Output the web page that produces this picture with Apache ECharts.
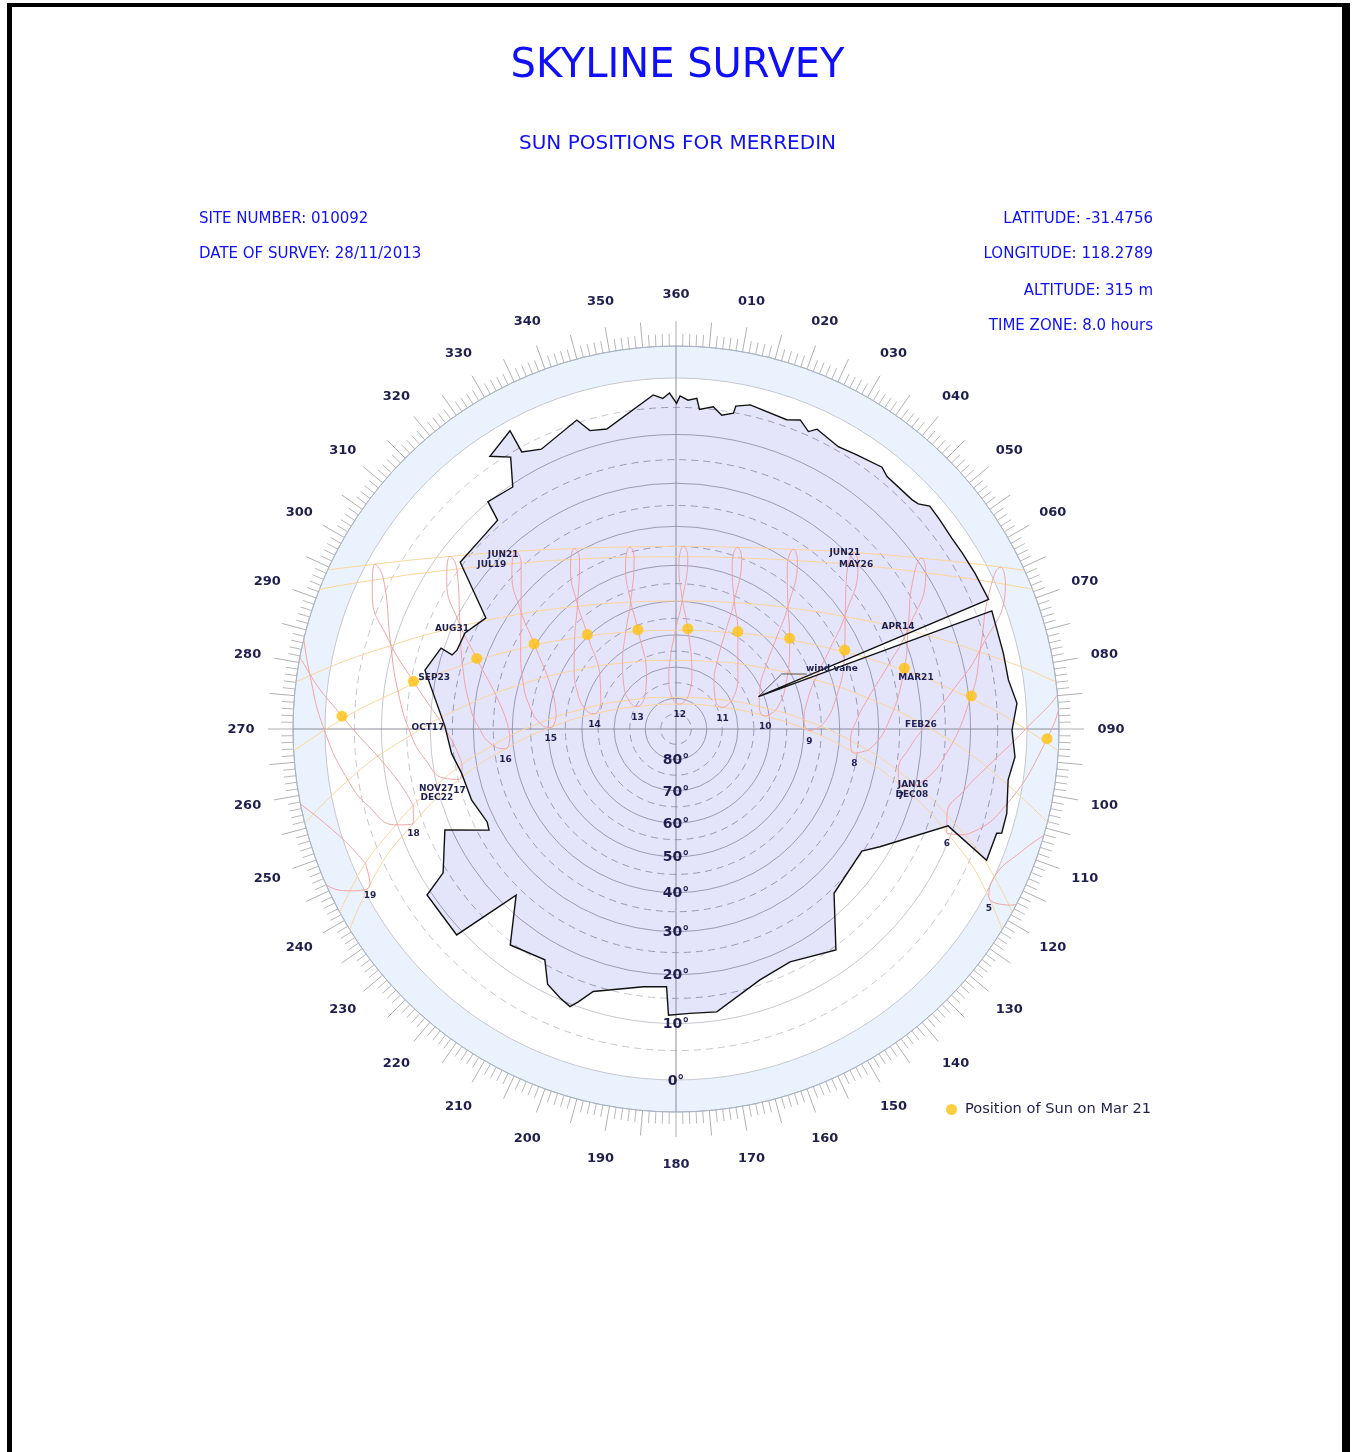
<!DOCTYPE html>
<html><head><meta charset="utf-8">
<script src="https://cdn.jsdelivr.net/npm/echarts@6/dist/echarts.min.js"></script>
<style>
html,body{margin:0;padding:0;background:#fff;overflow:hidden;}
#frame{position:absolute;left:7px;top:3px;width:1330px;height:1460px;border-left:5px solid #000;border-top:4px solid #000;border-right:8px solid #000;}
#chart{position:absolute;left:0;top:0;width:1355px;height:1452px;}
</style></head><body>
<div id="frame"></div>
<div id="chart"></div>
<script>
// ---------------- data (azimuth deg, elevation deg) ----------------
const HOURS = [5,6,7,8,9,10,11,12,13,14,15,16,17,18,19];
const SUN_JAN16 = [[117.8,-4.2],[110.1,7.5],[103.1,19.7],[96.3,32.3],[88.9,45.1],[79.4,57.8],[63.1,69.9],[20.4,78.9],[314.5,75.7],[288.1,64.6],[275.9,52.1],[267.6,39.3],[260.6,26.6],[253.8,14.1],[246.6,2.1]];
const SUN_FEB11 = [[113.0,-9.1],[104.9,3.0],[97.5,15.6],[89.9,28.3],[81.4,41.1],[70.1,53.5],[51.8,64.7],[16.9,72.2],[330.4,70.7],[301.6,61.6],[286.1,49.9],[275.9,37.3],[267.8,24.5],[260.4,11.8],[252.8,-0.6]];
const SUN_MAR21 = [[99.6,-16.0],[91.5,-3.2],[83.6,9.5],[75.1,22.1],[64.9,34.1],[51.4,45.0],[32.4,53.6],[6.7,57.9],[339.0,56.3],[316.8,49.5],[301.0,39.5],[289.5,27.9],[280.3,15.5],[272.2,2.8],[264.3,-10.0]];
const SUN_APR14 = [[90.3,-19.3],[82.6,-6.5],[74.7,6.0],[65.9,18.1],[55.3,29.2],[41.7,38.8],[24.0,45.8],[2.6,48.8],[340.6,46.9],[322.0,40.7],[307.5,31.6],[296.3,20.7],[287.2,8.8],[279.2,-3.6],[271.5,-16.3]];
const SUN_MAY14 = [[81.4,-22.7],[74.4,-10.2],[66.8,1.8],[58.2,13.2],[47.8,23.4],[34.8,31.9],[19.0,37.7],[1.0,39.9],[342.8,38.1],[326.7,32.6],[313.5,24.4],[302.8,14.3],[294.0,3.1],[286.4,-8.9],[279.3,-21.4]];
const SUN_JUN21 = [[77.3,-26.0],[70.7,-13.7],[63.5,-1.9],[55.2,9.1],[45.3,18.9],[33.2,27.1],[18.7,32.7],[2.4,35.0],[345.8,33.7],[330.6,28.9],[317.9,21.4],[307.4,12.0],[298.7,1.3],[291.3,-10.3],[284.6,-22.5]];
const SUN_JUL19 = [[80.4,-25.8],[73.6,-13.4],[66.3,-1.4],[58.0,10.0],[48.0,20.2],[35.8,28.8],[21.0,34.9],[3.9,37.6],[346.3,36.5],[330.4,31.8],[317.0,24.2],[306.1,14.6],[297.2,3.7],[289.5,-8.0],[282.6,-20.3]];
const SUN_AUG31 = [[91.3,-18.7],[83.6,-6.0],[75.7,6.6],[66.9,18.7],[56.3,30.0],[42.6,39.7],[24.6,46.8],[2.7,49.9],[340.3,48.0],[321.2,41.7],[306.6,32.4],[295.4,21.5],[286.3,9.5],[278.3,-3.0],[270.6,-15.7]];
const SUN_SEP23 = [[98.0,-12.6],[90.0,0.2],[82.0,12.9],[73.2,25.4],[62.4,37.3],[47.8,47.8],[27.0,55.6],[359.7,58.6],[332.5,55.5],[311.9,47.6],[297.4,37.0],[286.6,25.2],[277.8,12.7],[269.8,-0.1],[261.9,-12.8]];
const SUN_OCT17 = [[104.8,-6.1],[97.0,6.5],[89.3,19.2],[80.9,32.0],[70.5,44.4],[55.7,55.8],[31.5,64.7],[355.0,67.8],[321.0,62.8],[299.9,53.0],[286.5,41.2],[276.9,28.7],[268.7,15.9],[261.1,3.2],[253.0,-9.2]];
const SUN_NOV03 = [[109.5,-2.5],[101.9,9.9],[94.5,22.5],[86.8,35.3],[77.3,47.9],[63.5,60.0],[38.2,70.1],[351.9,73.6],[311.8,67.3],[291.3,56.3],[279.4,44.0],[270.7,31.2],[263.1,18.5],[255.8,5.9],[247.9,-6.3]];
const SUN_NOV27 = [[114.9,0.0],[107.6,12.0],[100.7,24.4],[93.8,37.0],[85.9,49.8],[74.9,62.4],[52.8,74.0],[352.9,79.6],[301.4,72.1],[282.6,60.2],[272.5,47.5],[264.9,34.7],[258.0,22.0],[251.1,9.7],[243.6,-2.1]];
const SUN_DEC22 = [[118.3,-0.7],[110.9,10.9],[104.2,23.1],[97.7,35.7],[90.7,48.4],[81.7,61.2],[65.0,73.4],[8.7,81.8],[300.2,75.5],[280.5,63.4],[270.7,50.7],[263.4,37.9],[256.9,25.3],[250.3,13.1],[243.1,1.3]];
// extra points before sunrise / after sunset (04:00 and 20:00) for the summer paths
const NOV27_EDGES = [[123.4,-11.1],[234.9,-13.1]];
const DEC22_EDGES = [[126.9,-11.5],[234.8,-9.6]];

const SKYLINE = [
[0.1,4.3],[0.7,3.0],[2.1,3.7],[3.6,3.3],[4.2,5.2],[6.6,4.5],[8.3,5.8],[10.3,5.1],[10.5,3.8],[12.9,3.1],
[19.7,3.8],[21.9,3.0],[24.0,4.3],[25.2,3.3],[29.9,4.3],[33.4,3.8],[38.2,3.0],[39.9,3.7],[45.8,3.7],[47.1,3.4],
[48.7,2.2],[51.6,2.4],[55.3,2.6],[58.4,2.5],[62.5,2.3],[67.5,2.1],[68.6,61.7],[69.5,2.3],[77.0,2.5],[81.6,2.5],
[85.7,1.5],[90.2,2.5],[94.7,1.8],[98.7,2.5],[104.3,1.6],[107.7,1.5],[108.0,2.3],[112.9,2.3],[109.6,11.1],[120.0,22.3],
[123.3,25.3],[136.1,24.0],[144.1,14.3],[153.9,17.1],[161.5,16.0],[171.8,11.7],[177.2,11.9],[181.5,11.6],[182.1,17.4],[187.2,17.0],
[197.5,13.8],[199.7,10.9],[200.9,9.5],[203.3,10.3],[206.7,11.7],[209.6,15.8],[217.5,14.4],[223.9,23.4],[226.8,8.8],[236.3,9.1],
[238.3,14.1],[246.4,18.6],[241.6,27.6],[243.8,28.1],[250.8,26.7],[258.3,26.1],[263.8,24.5],[270.6,23.3],[283.2,17.4],[289.0,19.4],
[288.3,22.2],[289.8,22.9],[294.5,23.1],[300.3,25.8],[307.7,14.3],[314.0,14.4],[319.5,13.9],[320.4,9.9],[326.0,10.5],[328.7,5.6],
[325.7,3.5],[330.9,1.6],[330.9,5.8],[334.3,7.0],[342.2,4.5],[343.9,7.0],[347.0,7.5],[356.1,2.7],[357.7,3.4],[358.9,2.5]
];
const WIND_VANE_LEADER = [[68.6,61.7],[62.5,52.5],[67.2,46.0]];
const WIND_VANE_LABEL = {text:'wind vane', pos:[69.0,39.1]};

const DATE_LABELS = ['JUN21','JUL19','AUG31','SEP23','OCT17','NOV27','DEC22','JUN21','MAY26','APR14','MAR21','FEB26','JAN16','DEC08'];
const DATE_LABEL_POS = [[315.2,20.1],[311.7,19.8],[294.1,20.1],[281.9,19.7],[270.2,19.5],[256.0,19.7],[253.9,19.3],[43.8,20.4],[47.7,20.5],[65.3,20.3],[78.0,20.1],[89.1,20.2],[103.3,20.5],[105.6,20.2]];

const ANGLE_TICK_LABELS = ['360','010','020','030','040','050','060','070','080','090','100','110','120','130','140','150','160','170','180','190','200','210','220','230','240','250','260','270','280','290','300','310','320','330','340','350'];
const ELEV_LABEL_VALUES = [0,10,20,30,40,50,60,70,80];
const ELEV_LABELS = ['0°','10°','20°','30°','40°','50°','60°','70°','80°'];
const CIRCLE_SOLID = [0,10,20,30,40,50,60,70,80];
const CIRCLE_DASHED = [5,15,25,35,45,55,65,75,85];

// ---------------- projection & layout ----------------
const DEG = Math.PI/180;
const R_HORIZON = 351, R_OUTER = 383, R_LABEL = 435;
const S_MAX = R_OUTER/R_HORIZON, S_LABEL = R_LABEL/R_HORIZON;
const s = el => Math.tan((90-el)/2*DEG);          // stereographic radius
const toPolar = p => [s(p[1]), p[0]];
const NAVY = '#1f1f4f', BLUE = '#0f0ff8', FONT = 'DejaVu Sans';

const ANALEMMA_DATES = [SUN_JAN16,SUN_FEB11,SUN_MAR21,SUN_APR14,SUN_MAY14,SUN_JUN21,SUN_JUL19,SUN_AUG31,SUN_SEP23,SUN_OCT17,SUN_NOV03,SUN_NOV27,SUN_DEC22];
const DATE_ARCS = [SUN_JUN21,SUN_JUL19,SUN_AUG31,SUN_SEP23,SUN_OCT17,
  [NOV27_EDGES[0]].concat(SUN_NOV27,[NOV27_EDGES[1]]),
  [DEC22_EDGES[0]].concat(SUN_DEC22,[DEC22_EDGES[1]])];

function radPx(api, el){ const c=api.coord([0,0]); const p=api.coord([s(el),0]); return Math.hypot(p[0]-c[0],p[1]-c[1]); }
function circles(api, color){
  const c = api.coord([0,0]); const out=[];
  CIRCLE_SOLID.forEach(e=>out.push({type:'circle',shape:{cx:c[0],cy:c[1],r:radPx(api,e)},style:{fill:'none',stroke:color,lineWidth:1}}));
  CIRCLE_DASHED.forEach(e=>out.push({type:'circle',shape:{cx:c[0],cy:c[1],r:radPx(api,e)},style:{fill:'none',stroke:color,lineWidth:1,lineDash:[7,5]}}));
  return out;
}
function polyPts(api){ return SKYLINE.map(p=>api.coord(toPolar(p))); }
function txt(x,y,text,size,weight,color,align){
  return {type:'text',x:x,y:y,style:{text:text,fill:color||NAVY,fontSize:size,fontWeight:weight||'normal',fontFamily:FONT,align:align||'center',verticalAlign:'middle'}};
}

const series = [];
// band + outer ring
series.push({type:'custom',coordinateSystem:'polar',z:0,silent:true,data:[[0,0]],renderItem:(p,api)=>{
  const c=api.coord([0,0]);
  return {type:'group',children:[
    {type:'ring',shape:{cx:c[0],cy:c[1],r:radPx(api,-4.95),r0:radPx(api,0)},style:{fill:'#eaf3fd'}},
    {type:'circle',shape:{cx:c[0],cy:c[1],r:R_OUTER},style:{fill:'none',stroke:'#aab4c4',lineWidth:1}}
  ]};
}});
// light grid circles (visible outside skyline)
series.push({type:'custom',coordinateSystem:'polar',z:1,silent:true,data:[[0,0]],renderItem:(p,api)=>({type:'group',children:circles(api,'#c6c6ce')})});
// skyline fill
series.push({type:'custom',coordinateSystem:'polar',z:2,silent:true,data:SKYLINE.map(toPolar),renderItem:(p,api)=>{
  if(p.dataIndex!==0) return null;
  return {type:'polygon',shape:{points:polyPts(api)},style:{fill:'#e4e4fb',stroke:'none'}};
}});
// darker grid circles clipped to skyline
series.push({type:'custom',coordinateSystem:'polar',z:3,silent:true,data:[[0,0]],renderItem:(p,api)=>({
  type:'group',clipPath:{type:'polygon',shape:{points:polyPts(api)}},children:circles(api,'#9a9ab4')
})});
// cross lines
series.push({type:'custom',coordinateSystem:'polar',z:3,silent:true,data:[[0,0]],renderItem:(p,api)=>{
  const a=api.coord([S_MAX,0]), b=api.coord([S_MAX,180]), c=api.coord([S_MAX,90]), d=api.coord([S_MAX,270]);
  return {type:'group',children:[
    {type:'line',shape:{x1:a[0],y1:a[1],x2:b[0],y2:b[1]},style:{stroke:'#8c8c9c',lineWidth:1}},
    {type:'line',shape:{x1:c[0],y1:c[1],x2:d[0],y2:d[1]},style:{stroke:'#8c8c9c',lineWidth:1}}
  ]};
}});
// date arcs
DATE_ARCS.forEach(arc=>series.push({type:'line',coordinateSystem:'polar',z:4,silent:true,showSymbol:false,smooth:0.5,
  data:arc.map(toPolar),lineStyle:{color:'#fbd59a',width:1}}));
// analemmas (one per clock hour)
HOURS.forEach((h,i)=>{
  const pts = ANALEMMA_DATES.map(d=>d[i]); pts.push(pts[0]);
  series.push({type:'line',coordinateSystem:'polar',z:5,silent:true,showSymbol:false,smooth:0.5,
    data:pts.map(toPolar),lineStyle:{color:'#f2a4a4',width:1}});
});
// skyline outline + wind vane leader
series.push({type:'custom',coordinateSystem:'polar',z:6,silent:true,data:[[0,0]],renderItem:(p,api)=>({type:'group',children:[
  {type:'polygon',shape:{points:polyPts(api)},style:{fill:'none',stroke:'#111',lineWidth:1.4}},
  {type:'polyline',shape:{points:WIND_VANE_LEADER.map(q=>api.coord(toPolar(q)))},style:{fill:'none',stroke:'#333',lineWidth:0.8}}
]})});
// Mar 21 sun positions
series.push({type:'scatter',name:'Position of Sun on Mar 21',coordinateSystem:'polar',z:8,silent:true,
  data:SUN_MAR21.filter(p=>p[1]>-4.9).map(toPolar),symbol:'circle',symbolSize:11,itemStyle:{color:'#ffc20e'}});
// labels
series.push({type:'custom',coordinateSystem:'polar',z:9,silent:true,data:[[0,0]],renderItem:(p,api)=>{
  const ch=[];
  ANGLE_TICK_LABELS.forEach((t,i)=>{const q=api.coord([S_LABEL,i*10]); ch.push(txt(q[0],q[1]+1,t,13,'bold'));});
  ELEV_LABEL_VALUES.forEach((e,i)=>{const q=api.coord([s(e),180]); ch.push(txt(q[0],q[1]+1,ELEV_LABELS[i],14,'bold'));});
  HOURS.forEach((h,i)=>{const q=api.coord(toPolar(SUN_DEC22[i])); ch.push(txt(q[0],q[1]+11,String(h),9,'bold'));});
  DATE_LABELS.forEach((t,i)=>{const q=api.coord(toPolar(DATE_LABEL_POS[i])); ch.push(txt(q[0],q[1],t,9,'bold'));});
  const w=api.coord(toPolar(WIND_VANE_LABEL.pos)); ch.push(txt(w[0],w[1],WIND_VANE_LABEL.text,9,'bold'));
  return {type:'group',children:ch};
}});

const infoStyle = (t,align)=>({text:t,fill:BLUE,fontSize:15,fontFamily:FONT,align:align,verticalAlign:'middle'});
const option = {
  animation:false,
  title:[
    {text:'SKYLINE SURVEY',left:'center',top:40,padding:5,textStyle:{fontSize:40,fontWeight:'normal',color:BLUE,fontFamily:FONT,lineHeight:44}},
    {text:'SUN POSITIONS FOR MERREDIN',left:'center',top:127,padding:5,textStyle:{fontSize:20,fontWeight:'normal',color:BLUE,fontFamily:FONT,lineHeight:24}}
  ],
  legend:{data:['Position of Sun on Mar 21'],left:946,top:1102,padding:0,icon:'circle',itemWidth:11,itemHeight:11,selectedMode:false,
    textStyle:{fontSize:14.6,color:NAVY,fontFamily:FONT,padding:[0,0,0,3]}},
  graphic:[
    {type:'text',x:199,y:219.5,style:infoStyle('SITE NUMBER: 010092','left')},
    {type:'text',x:199,y:254.5,style:infoStyle('DATE OF SURVEY: 28/11/2013','left')},
    {type:'text',x:1153,y:219.5,style:infoStyle('LATITUDE: -31.4756','right')},
    {type:'text',x:1153,y:254.5,style:infoStyle('LONGITUDE: 118.2789','right')},
    {type:'text',x:1153,y:291.5,style:infoStyle('ALTITUDE: 315 m','right')},
    {type:'text',x:1153,y:326.5,style:infoStyle('TIME ZONE: 8.0 hours','right')}
  ],
  polar:{center:[676,729],radius:R_OUTER},
  angleAxis:{type:'value',min:0,max:360,interval:5,startAngle:90,clockwise:true,
    axisLine:{show:true,lineStyle:{color:'#aab4c4',width:1}},
    axisTick:{show:true,inside:false,length:25,lineStyle:{color:'#b0b0b0',width:1}},
    minorTick:{show:true,splitNumber:5,length:12,lineStyle:{color:'#b8b8b8',width:1}},
    axisLabel:{show:false},splitLine:{show:false},splitArea:{show:false}},
  radiusAxis:{type:'value',min:0,max:S_MAX,axisLine:{show:false},axisTick:{show:false},axisLabel:{show:false},splitLine:{show:false}},
  series:series
};
const chart = echarts.init(document.getElementById('chart'),null,{renderer:'canvas'});
chart.setOption(option);
</script>
</body></html>
